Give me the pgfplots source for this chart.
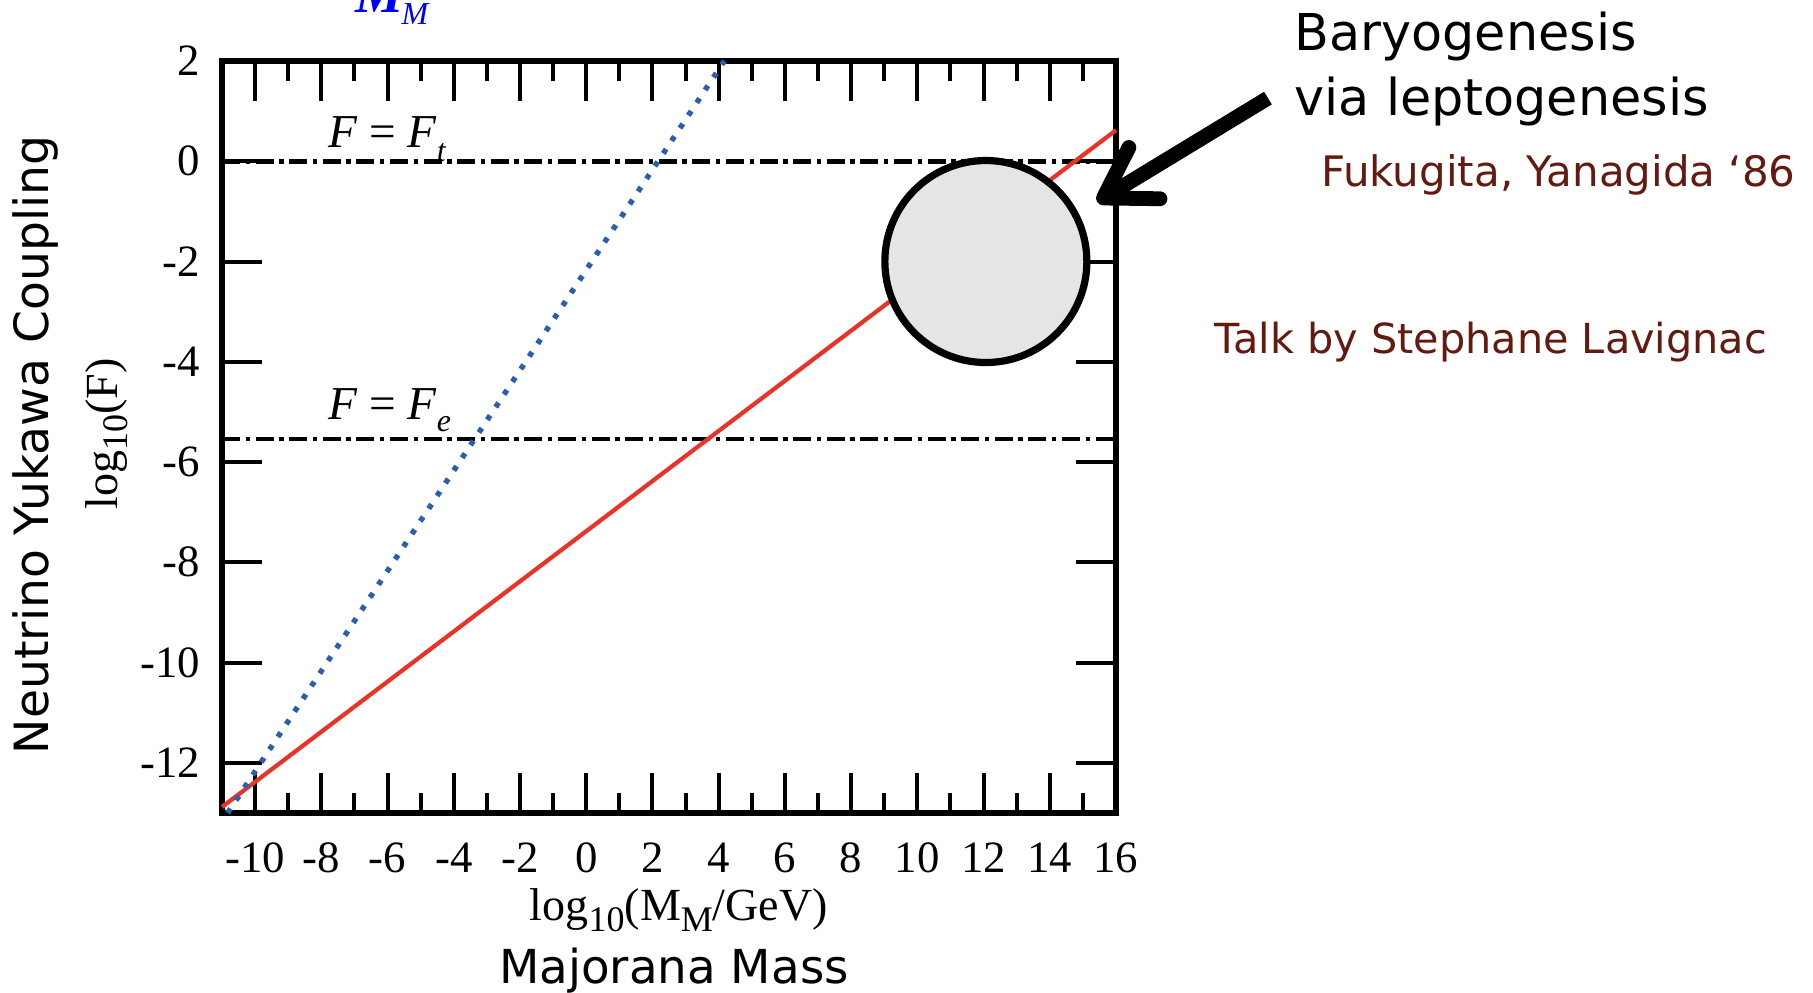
\documentclass[border=0pt]{standalone}
\usepackage{fontspec}
\setmainfont{Liberation Serif}
\newfontfamily\sansf{DejaVu Sans}
\usepackage{pgfplots}
\pgfplotsset{compat=1.18}
\usetikzlibrary{arrows.meta}
\definecolor{redline}{RGB}{235,50,40}
\definecolor{blueline}{RGB}{43,95,173}
\definecolor{brownt}{RGB}{99,26,16}
\definecolor{circfill}{RGB}{228,229,231}
\definecolor{mblue}{RGB}{0,0,255}
\begin{document}
\begin{tikzpicture}
\useasboundingbox (-55.5pt,-45pt) rectangle (397.75pt,203.25pt);
\begin{axis}[
  at={(0,0)}, anchor=south west,
  scale only axis, width=223.5pt, height=188pt,
  xmin=-11, xmax=16, ymin=-13, ymax=2,
  xtick={-10,-8,...,16},
  xticklabels={-10,-8,-6,-4,-2,0,2,4,6,8,10,12,14,16},
  minor xtick={-11,-9,...,15},
  ytick={-12,-10,...,2},
  yticklabels={-12,-10,-8,-6,-4,-2,0,2},
  tick align=inside,
  major tick length=10pt, minor tick length=5pt,
  tick style={black, line width=1pt},
  axis line style={line width=1.35pt},
  tick label style={font=\fontsize{11.2}{13}\selectfont},
  xticklabel style={yshift=-4pt},
  yticklabel style={xshift=-2pt},
  clip=false,
]
% horizontal reference lines
\addplot[black, line width=1.15pt, dash pattern=on 4.5pt off 1.4pt on 1.1pt off 1.4pt] coordinates {(-11,0) (16,0)};
\addplot[black, line width=1.15pt, dash pattern=on 4.5pt off 1.4pt on 1.1pt off 1.4pt] coordinates {(-11,-5.54) (16,-5.54)};
% red line
\addplot[redline, line width=1.05pt] coordinates {(-11,-12.88) (16,0.62)};
% blue dotted line
\addplot[blueline, line width=1.35pt, dash pattern=on 1.3pt off 2.5pt] coordinates {(-10.83,-13) (4.17,2)};
% circle
\draw[line width=1.8pt, fill=circfill] (axis cs:12.07,-2) circle[radius=25.25pt];
% arrow
\draw[line width=3.7pt, -{Straight Barb[length=12pt,width=15pt,round]}] (axis cs:20.59,1.26) -- (axis cs:15.43,-0.81);
% labels F = F_t, F = F_e
\node[anchor=base west, font=\fontsize{11.8}{13}\selectfont] at (axis cs:-8.22,0.28) {\textit{F} = \textit{F}\raisebox{-3.6pt}{\fontsize{8}{9}\selectfont\textit{t}}};
\node[anchor=base west, font=\fontsize{11.8}{13}\selectfont] at (axis cs:-8.22,-5.16) {\textit{F} = \textit{F}\raisebox{-3pt}{\fontsize{8}{9}\selectfont\textit{e}}};
% M_M blue (clipped at top, as in the reference)
\node[anchor=base west, text=mblue, inner sep=0pt, font=\fontsize{13.5}{14}\selectfont\bfseries\itshape] at (axis cs:-6.98,2.96) {M};
\node[anchor=base west, text=mblue, inner sep=0pt, font=\fontsize{8}{9}\selectfont\itshape] at (axis cs:-5.6,2.72) {M};
% axis labels
\node[anchor=base, font=\fontsize{11.5}{13}\selectfont] at (axis cs:2.8,-15.15) {log\raisebox{-0.5ex}{\fontsize{9}{9}\selectfont 10}(M\raisebox{-0.5ex}{\fontsize{9}{9}\selectfont M}/GeV)};
\node[anchor=base, rotate=90, font=\fontsize{11.5}{13}\selectfont] at (axis cs:-14.17,-5.44) {log\raisebox{-0.5ex}{\fontsize{9}{9}\selectfont 10}(F)};
\node[anchor=base, font=\sansf\fontsize{11.7}{13}\selectfont] at (axis cs:2.65,-16.4) {Majorana Mass};
\node[anchor=base, rotate=90, font=\sansf\fontsize{11.8}{13}\selectfont] at (axis cs:-16.24,-5.66) {Neutrino Yukawa Coupling};
% right-hand texts
\node[anchor=base west, inner sep=0pt, font=\sansf\fontsize{12.7}{15}\selectfont] at (axis cs:21.37,2.2) {Baryogenesis};
\node[anchor=base west, inner sep=0pt, font=\sansf\fontsize{12.7}{15}\selectfont] at (axis cs:21.37,0.92) {via leptogenesis};
\node[anchor=base west, inner sep=0pt, text=brownt, font=\sansf\fontsize{10.5}{12}\selectfont] at (axis cs:22.18,-0.51) {Fukugita, Yanagida ‘86};
\node[anchor=base west, inner sep=0pt, text=brownt, font=\sansf\fontsize{10.35}{12}\selectfont] at (axis cs:18.96,-3.83) {Talk by Stephane Lavignac};
\end{axis}
\end{tikzpicture}
\end{document}
